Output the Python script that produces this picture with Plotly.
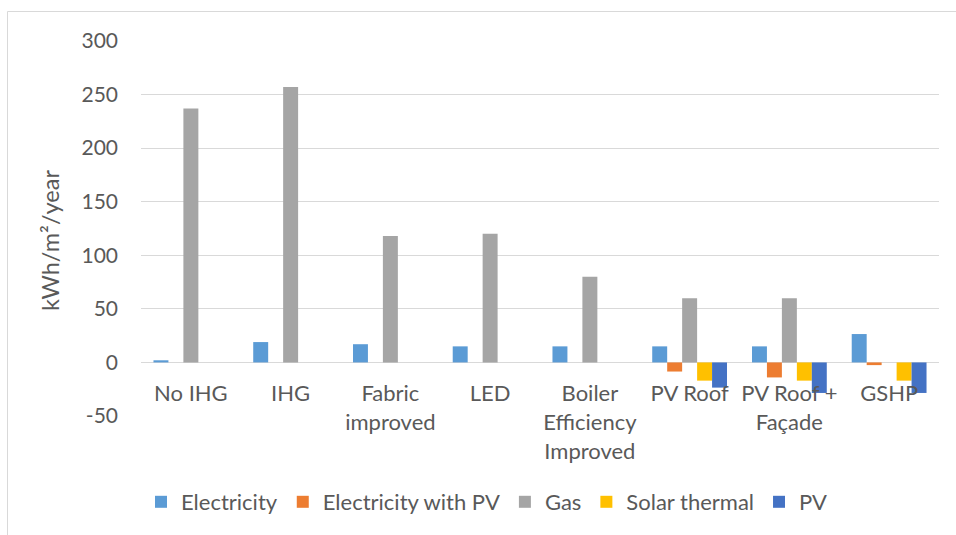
import plotly.graph_objects as go

categories = ["No IHG", "IHG", "Fabric improved", "LED", "Boiler Efficiency Improved",
              "PV Roof", "PV Roof + Façade", "GSHP"]
tick_labels = ["No IHG", "IHG", "Fabric<br>improved", "LED", "Boiler<br>Efficiency<br>Improved",
               "PV Roof", "PV Roof +<br>Façade", "GSHP"]

electricity = [2, 19, 17, 15, 15, 15, 15, 26.5]
electricity_pv = [None, None, None, None, None, -8.5, -14, -2.5]
gas = [237, 257, 118, 120, 80, 60, 60, None]
solar_thermal = [None, None, None, None, None, -17, -17, -17]
pv = [None, None, None, None, None, -23.5, -28.5, -28.5]

y_ticks = [-50, 0, 50, 100, 150, 200, 250, 300]
y_tick_text = ["-50", "0", "50", "100", "150", "200", "250", "300"]

series = [
    ("Electricity", electricity, "#5B9BD5"),
    ("Electricity with PV", electricity_pv, "#ED7D31"),
    ("Gas", gas, "#A5A5A5"),
    ("Solar thermal", solar_thermal, "#FFC000"),
    ("PV", pv, "#4472C4"),
]

FONT = "Lato"
TXT = "#595959"

fig = go.Figure()
for name, vals, col in series:
    fig.add_trace(go.Bar(name=name, x=categories, y=vals, marker_color=col,
                         marker_line_width=0))

W, H = 956, 535
L, R, T, B = 141, 17, 41, 119
pw, ph = W - L - R, H - T - B


def px(x):
    return (x - L) / pw


def py(y):
    return (H - B - y) / ph


fig.update_layout(
    width=W, height=H,
    margin=dict(l=L, r=R, t=T, b=B, pad=0),
    paper_bgcolor="white", plot_bgcolor="white",
    barmode="group", bargap=0.25, bargroupgap=0,
    font=dict(family=FONT, size=22, color=TXT),
    showlegend=True,
    legend=dict(orientation="h", x=px(141), xanchor="left", y=py(502), yanchor="middle",
                font=dict(family=FONT, size=22, color=TXT), itemwidth=30,
                traceorder="normal"),
    xaxis=dict(
        tickmode="array", tickvals=categories, ticktext=tick_labels,
        showgrid=False, showline=False, ticks="",
        anchor="free", position=50 / 350,
        tickfont=dict(family=FONT, size=22, color=TXT),
        ticklabelstandoff=16,
    ),
    yaxis=dict(
        range=[-50, 300], tickvals=y_ticks, ticktext=y_tick_text,
        showgrid=True, gridcolor="#D9D9D9",
        gridwidth=1, zeroline=True, zerolinecolor="#D9D9D9", zerolinewidth=1,
        showline=False, ticks="", ticklabelstandoff=22,
        tickfont=dict(family=FONT, size=21, color=TXT),
    ),
    annotations=[dict(
        text="kWh/m²/year", textangle=-90, x=px(50), y=py(241), xref="paper", yref="paper",
        showarrow=False, xanchor="center", yanchor="middle",
        font=dict(family=FONT, size=23.5, color=TXT),
    )],
    shapes=[
        dict(type="line", xref="paper", yref="paper", x0=px(7.5), x1=px(7.5),
             y0=py(11.5), y1=py(540), line=dict(color="#D9D9D9", width=1)),
        dict(type="line", xref="paper", yref="paper", x0=px(7.5), x1=px(960),
             y0=py(11.5), y1=py(11.5), line=dict(color="#D9D9D9", width=1)),
    ],
)

fig.write_html("out.html", config={"displayModeBar": False},
               post_script="document.body.style.margin='0px';")
